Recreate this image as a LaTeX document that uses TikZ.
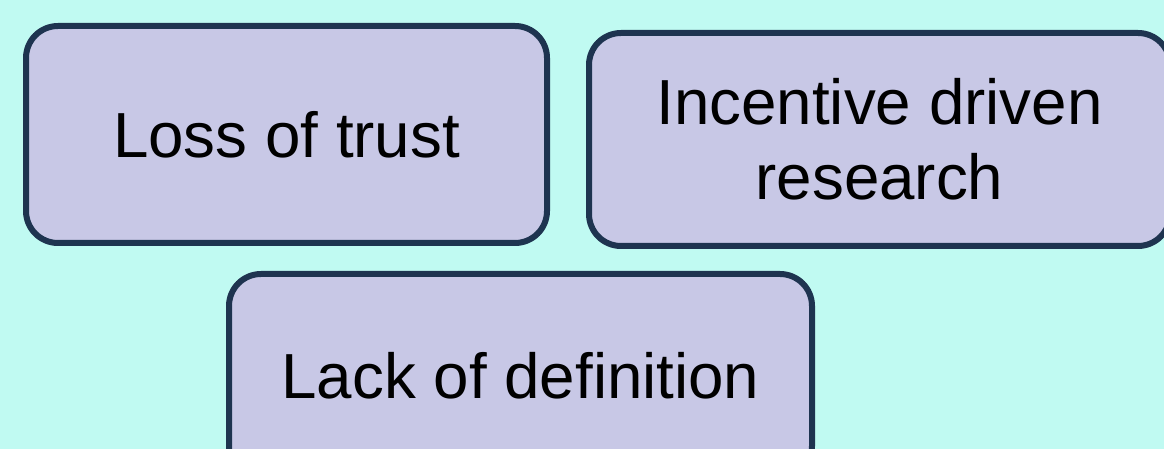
\documentclass[tikz,border=0pt]{standalone}
\usepackage{fontspec}
\setmainfont{Liberation Sans}
\definecolor{bgcyan}{RGB}{192,250,242}
\definecolor{boxfill}{RGB}{200,200,230}
\definecolor{boxline}{RGB}{30,52,80}
\tikzset{
  card/.style={draw=boxline, fill=boxfill, line width=6pt, rounded corners=32pt,
    rectangle, inner sep=0pt, align=center, text=black,
    font=\fontsize{63.7}{75}\selectfont},
}
\begin{document}
\begin{tikzpicture}[x=1pt,y=1pt]
\fill[bgcyan] (0,0) rectangle (1164,449);
\useasboundingbox (0,0) rectangle (1164,449);
\clip (0,0) rectangle (1164,449);
\node[card, minimum width=521pt, minimum height=217pt] (trust) at (286.5,314.5) {Loss of trust};
\node[card, minimum width=581pt, minimum height=213pt] (incentive) at (879.5,309.5) {Incentive driven\\research};
\node[card, minimum width=583pt, minimum height=204pt] (definition) at (520.5,73) {Lack of definition};
\end{tikzpicture}
\end{document}
